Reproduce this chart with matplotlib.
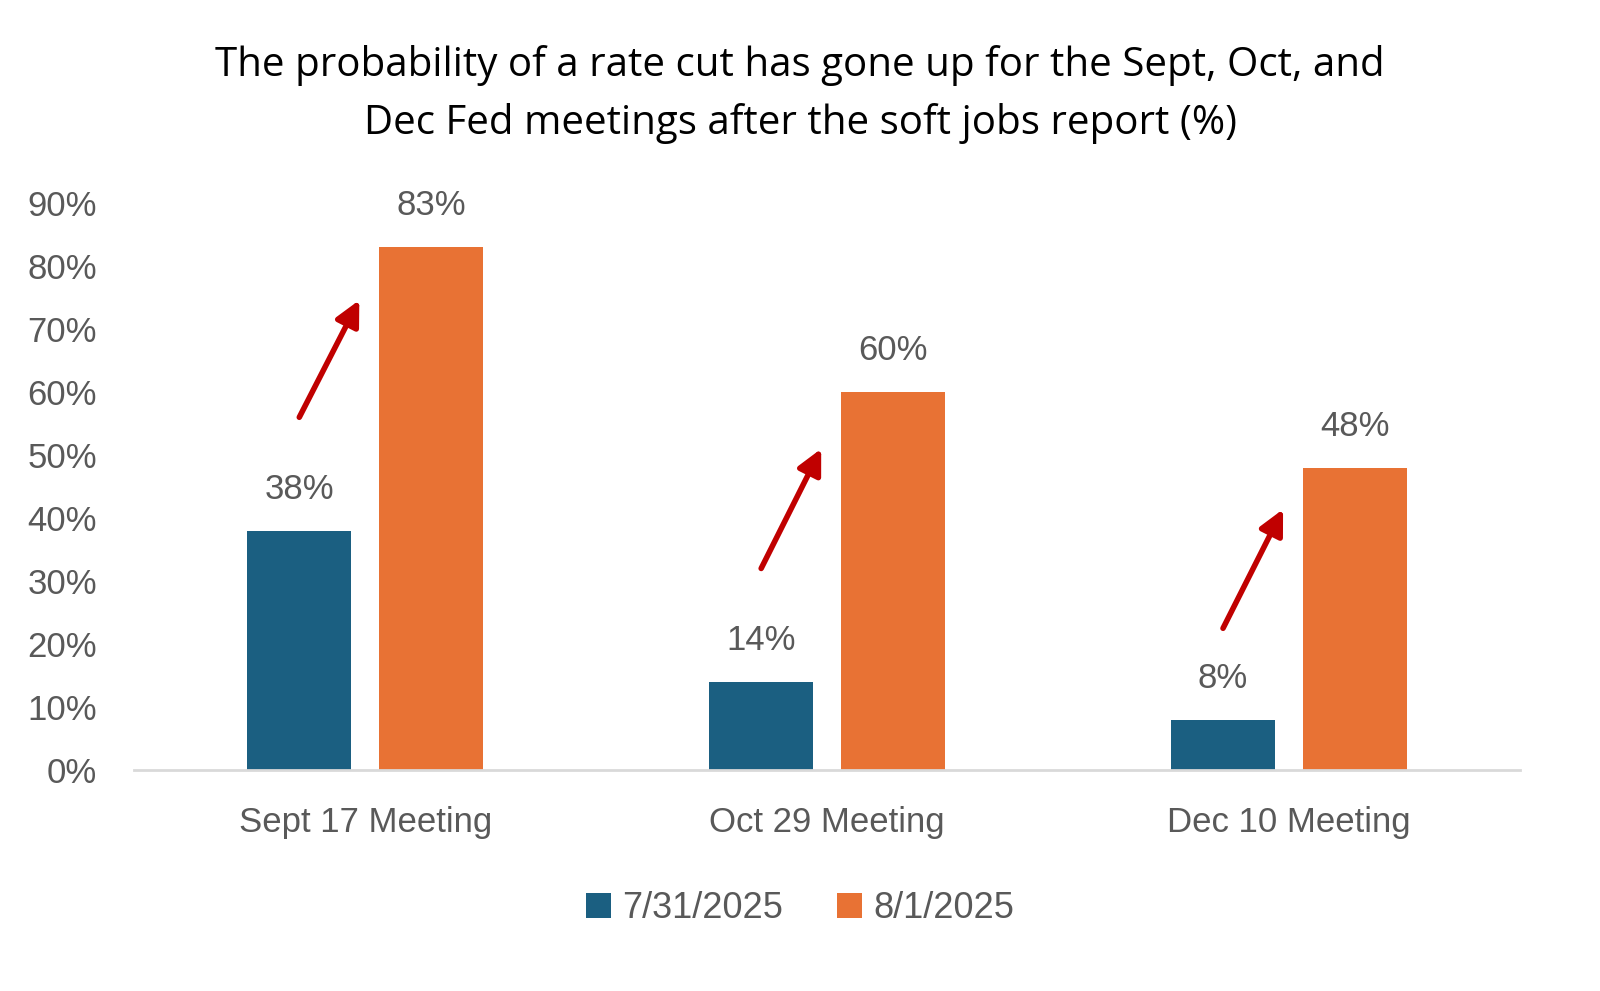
import matplotlib.pyplot as plt
import numpy as np

# data
meetings = ["Sept 17 Meeting", "Oct 29 Meeting", "Dec 10 Meeting"]
before = [38, 14, 8]      # 7/31/2025
after = [83, 60, 48]      # 8/1/2025
series_names = ["7/31/2025", "8/1/2025"]
yticks = [0, 10, 20, 30, 40, 50, 60, 70, 80, 90]

# red arrows (start y, end y) per meeting
arrow_start_y = [56, 32, 22.5]
arrow_end_y = [74.6, 51, 41.4]

BLUE = "#1B5F81"
ORANGE = "#E87234"
RED = "#C00000"
GREY = "#595959"

plt.rcParams["font.family"] = ["Liberation Sans", "DejaVu Sans"]

fig = plt.figure(figsize=(16, 9.91), dpi=100)
ax = fig.add_axes([0.084, 0.223, 0.866, 0.572])

x = np.arange(len(meetings))
width = 0.225
offset = 0.143

b1 = ax.bar(x - offset, before, width, color=BLUE, label=series_names[0])
b2 = ax.bar(x + offset, after, width, color=ORANGE, label=series_names[1])

for rect, v in zip(list(b1) + list(b2), before + after):
    ax.text(rect.get_x() + rect.get_width() / 2, v + 6.6, f"{v}%",
            ha="center", va="center", fontsize=25, color=GREY)

# arrows showing the jump
for i in range(len(meetings)):
    ax.annotate("", xy=(x[i] - offset + 0.13, arrow_end_y[i]),
                xytext=(x[i] - offset, arrow_start_y[i]),
                arrowprops=dict(arrowstyle="-|>,head_length=1.5,head_width=0.75",
                                color=RED, lw=4, shrinkA=0, shrinkB=0))

ax.set_xlim(-0.5, 2.5)
ax.set_ylim(0, 90)
ax.set_yticks(yticks)
ax.set_yticklabels([f"{t}%" for t in yticks])
ax.set_xticks(x)
ax.set_xticklabels(meetings)
ax.tick_params(axis="both", length=0, labelsize=25, colors=GREY)
ax.tick_params(axis="y", pad=27)
ax.tick_params(axis="x", pad=26)

for s in ["top", "right", "left"]:
    ax.spines[s].set_visible(False)
ax.spines["bottom"].set_color("#D9D9D9")
ax.spines["bottom"].set_linewidth(2)

fig.text(0.5, 0.905, "The probability of a rate cut has gone up for the Sept, Oct, and\n"
         "Dec Fed meetings after the soft jobs report (%)",
         ha="center", va="center", fontsize=29, color="black",
         family=["Open Sans", "DejaVu Sans"], linespacing=1.55)

fig.legend(handles=[b1, b2], labels=series_names, loc="center",
           bbox_to_anchor=(0.5, 0.083), ncol=2, frameon=False,
           fontsize=26, labelcolor=GREY, handlelength=0.7, handleheight=0.7,
           handletextpad=0.3, columnspacing=1.5)

plt.savefig("out.png", dpi=100)
